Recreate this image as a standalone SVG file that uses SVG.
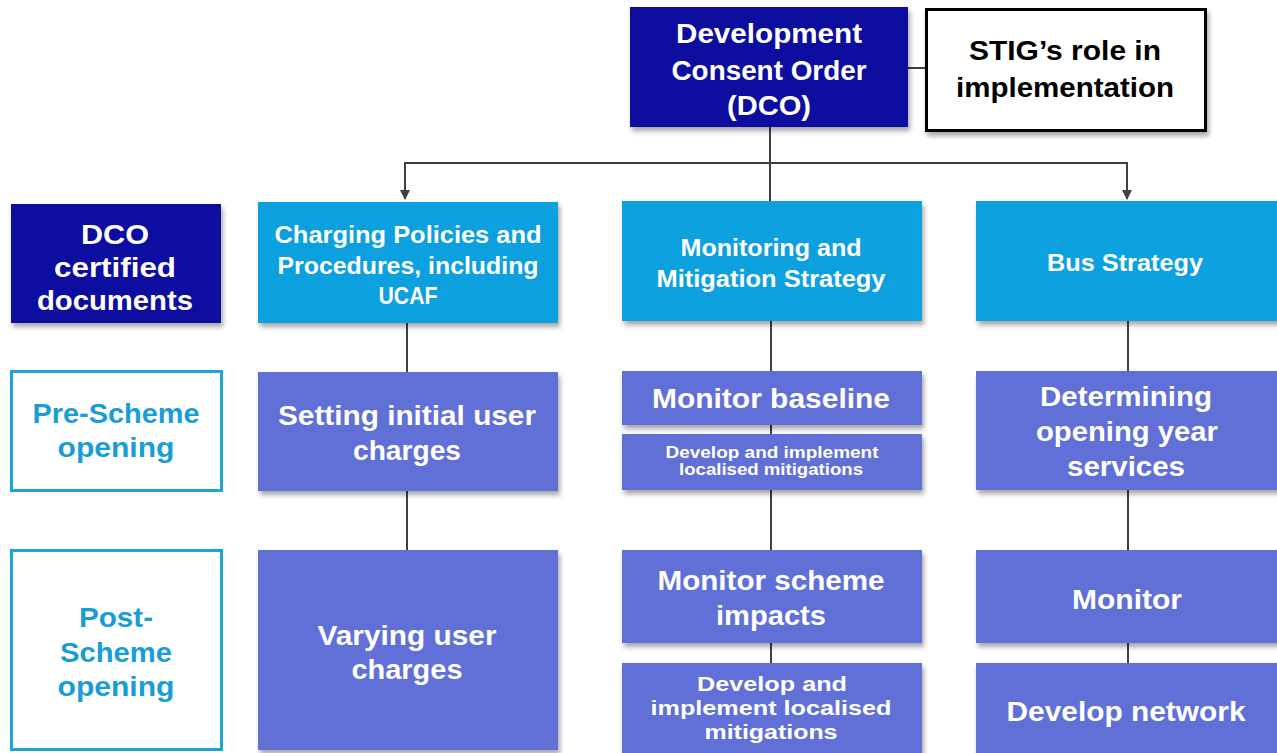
<svg xmlns="http://www.w3.org/2000/svg" width="1277" height="753" viewBox="0 0 1277 753">
<defs>
<filter id="sh" x="-10%" y="-10%" width="125%" height="130%">
<feDropShadow dx="2" dy="4" stdDeviation="2.5" flood-color="#000" flood-opacity="0.35"/>
</filter>
<marker id="ah" viewBox="0 0 10 10" refX="9" refY="5" markerWidth="5" markerHeight="5" orient="auto" markerUnits="strokeWidth">
<path d="M0,0 L10,5 L0,10 z" fill="#404040"/>
</marker>
<style>
text{font-family:"Liberation Sans Narrow","Liberation Sans",Arial,sans-serif;font-weight:bold;text-anchor:middle;}
.w{fill:#ffffff;}
.k{fill:#000000;}
.c{fill:#1a9dd6;}
.dark{fill:#0c10a0;filter:url(#sh);}
.light{fill:#0aa0df;filter:url(#sh);}
.mid{fill:#6070d6;filter:url(#sh);}
.out{fill:#ffffff;stroke:#1ea2dc;stroke-width:3;}
.stig{fill:#ffffff;stroke:#000000;stroke-width:3;filter:url(#sh);}
.f28{font-size:28px;}
.f24{font-size:24px;}
.f21{font-size:21px;}
.f17{font-size:17px;}
.ln{stroke:#404040;stroke-width:2;fill:none;}
</style>
</defs>
<rect width="1277" height="753" fill="#ffffff"/>

<g id="connectors">
<line class="ln" x1="908" y1="68" x2="926" y2="68"/>
<line class="ln" x1="770" y1="127" x2="770" y2="201"/>
<line class="ln" x1="405" y1="163" x2="1127" y2="163"/>
<line class="ln" x1="405" y1="162" x2="405" y2="199" marker-end="url(#ah)"/>
<line class="ln" x1="1127" y1="162" x2="1127" y2="199" marker-end="url(#ah)"/>
<line class="ln" x1="407" y1="323" x2="407" y2="372"/>
<line class="ln" x1="407" y1="491" x2="407" y2="550"/>
<line class="ln" x1="771" y1="321" x2="771" y2="371"/>
<line class="ln" x1="771" y1="425" x2="771" y2="434"/>
<line class="ln" x1="771" y1="490" x2="771" y2="550"/>
<line class="ln" x1="771" y1="643" x2="771" y2="663"/>
<line class="ln" x1="1128" y1="321" x2="1128" y2="371"/>
<line class="ln" x1="1128" y1="490" x2="1128" y2="550"/>
<line class="ln" x1="1128" y1="643" x2="1128" y2="663"/>
</g>

<g id="dco">
<rect class="dark" x="630" y="7" width="278" height="120"/>
<text class="w f28" x="769" y="43" textLength="186" lengthAdjust="spacingAndGlyphs">Development</text>
<text class="w f28" x="769" y="80" textLength="195" lengthAdjust="spacingAndGlyphs">Consent Order</text>
<text class="w f28" x="769" y="115" textLength="84" lengthAdjust="spacingAndGlyphs">(DCO)</text>
</g>

<g id="stig">
<rect class="stig" x="926.5" y="9.5" width="279" height="121"/>
<text class="k f28" x="1065" y="60" textLength="192" lengthAdjust="spacingAndGlyphs">STIG’s role in</text>
<text class="k f28" x="1065" y="97" textLength="218" lengthAdjust="spacingAndGlyphs">implementation</text>
</g>

<g id="dco-certified">
<rect class="dark" x="11" y="204" width="210" height="119"/>
<text class="w f28" x="115" y="244" textLength="68" lengthAdjust="spacingAndGlyphs">DCO</text>
<text class="w f28" x="115" y="277" textLength="122" lengthAdjust="spacingAndGlyphs">certified</text>
<text class="w f28" x="115" y="310" textLength="156" lengthAdjust="spacingAndGlyphs">documents</text>
</g>

<g id="pre-scheme">
<rect class="out" x="11.5" y="371.5" width="210" height="119"/>
<text class="c f28" x="116" y="423" textLength="167" lengthAdjust="spacingAndGlyphs">Pre-Scheme</text>
<text class="c f28" x="116" y="457" textLength="117" lengthAdjust="spacingAndGlyphs">opening</text>
</g>

<g id="post-scheme">
<rect class="out" x="11.5" y="550.5" width="210" height="199"/>
<text class="c f28" x="116" y="627" textLength="74" lengthAdjust="spacingAndGlyphs">Post-</text>
<text class="c f28" x="116" y="662" textLength="112" lengthAdjust="spacingAndGlyphs">Scheme</text>
<text class="c f28" x="116" y="696" textLength="117" lengthAdjust="spacingAndGlyphs">opening</text>
</g>

<g id="charging">
<rect class="light" x="258" y="202" width="300" height="121"/>
<text class="w f24" x="408" y="243" textLength="267" lengthAdjust="spacingAndGlyphs">Charging Policies and</text>
<text class="w f24" x="408" y="274" textLength="261" lengthAdjust="spacingAndGlyphs">Procedures, including</text>
<text class="w f24" x="408" y="304" textLength="59" lengthAdjust="spacingAndGlyphs">UCAF</text>
</g>

<g id="setting">
<rect class="mid" x="258" y="372" width="300" height="119"/>
<text class="w f28" x="407" y="425" textLength="258" lengthAdjust="spacingAndGlyphs">Setting initial user</text>
<text class="w f28" x="407" y="460" textLength="108" lengthAdjust="spacingAndGlyphs">charges</text>
</g>

<g id="varying">
<rect class="mid" x="258" y="550" width="300" height="200"/>
<text class="w f28" x="407" y="645" textLength="179" lengthAdjust="spacingAndGlyphs">Varying user</text>
<text class="w f28" x="407" y="679" textLength="111" lengthAdjust="spacingAndGlyphs">charges</text>
</g>

<g id="monitoring">
<rect class="light" x="622" y="201" width="300" height="120"/>
<text class="w f24" x="771" y="256" textLength="181" lengthAdjust="spacingAndGlyphs">Monitoring and</text>
<text class="w f24" x="771" y="287" textLength="229" lengthAdjust="spacingAndGlyphs">Mitigation Strategy</text>
</g>

<g id="monitor-baseline">
<rect class="mid" x="622" y="371" width="300" height="54"/>
<text class="w f28" x="771" y="408" textLength="238" lengthAdjust="spacingAndGlyphs">Monitor baseline</text>
</g>

<g id="develop-pre">
<rect class="mid" x="622" y="434" width="300" height="56"/>
<text class="w f17" x="772" y="458" textLength="213" lengthAdjust="spacingAndGlyphs">Develop and implement</text>
<text class="w f17" x="771" y="475" textLength="184" lengthAdjust="spacingAndGlyphs">localised mitigations</text>
</g>

<g id="monitor-impacts">
<rect class="mid" x="622" y="550" width="300" height="93"/>
<text class="w f28" x="771" y="590" textLength="227" lengthAdjust="spacingAndGlyphs">Monitor scheme</text>
<text class="w f28" x="771" y="625" textLength="110" lengthAdjust="spacingAndGlyphs">impacts</text>
</g>

<g id="develop-post">
<rect class="mid" x="622" y="663" width="300" height="95"/>
<text class="w f21" x="772" y="691" textLength="150" lengthAdjust="spacingAndGlyphs">Develop and</text>
<text class="w f21" x="771" y="715" textLength="241" lengthAdjust="spacingAndGlyphs">implement localised</text>
<text class="w f21" x="771" y="739" textLength="133" lengthAdjust="spacingAndGlyphs">mitigations</text>
</g>

<g id="bus">
<rect class="light" x="976" y="201" width="305" height="120"/>
<text class="w f24" x="1125" y="271" textLength="156" lengthAdjust="spacingAndGlyphs">Bus Strategy</text>
</g>

<g id="determining">
<rect class="mid" x="976" y="371" width="305" height="119"/>
<text class="w f28" x="1126" y="406" textLength="172" lengthAdjust="spacingAndGlyphs">Determining</text>
<text class="w f28" x="1127" y="441" textLength="182" lengthAdjust="spacingAndGlyphs">opening year</text>
<text class="w f28" x="1126" y="476" textLength="118" lengthAdjust="spacingAndGlyphs">services</text>
</g>

<g id="monitor">
<rect class="mid" x="976" y="550" width="305" height="93"/>
<text class="w f28" x="1127" y="609" textLength="110" lengthAdjust="spacingAndGlyphs">Monitor</text>
</g>

<g id="develop-network">
<rect class="mid" x="976" y="663" width="305" height="95"/>
<text class="w f28" x="1126" y="721" textLength="239" lengthAdjust="spacingAndGlyphs">Develop network</text>
</g>
</svg>
